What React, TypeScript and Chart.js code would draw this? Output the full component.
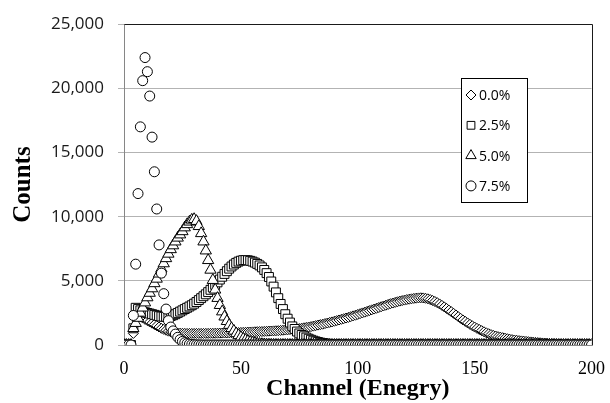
import React, { useEffect, useRef } from "react";
import { Chart, registerables } from "chart.js";
import { drawPoint } from "chart.js/helpers";

Chart.register(...registerables);

const SERIES_LABELS = ["0.0%", "2.5%", "5.0%", "7.5%"];
const POINT_STYLES = ["rectRot", "rect", "triangle", "circle"];
const POINT_RADII = [5, 6.3, 6.5, 5];
const LEGEND_RADII = [5, 5.5, 6, 5];
const X_MIN = 0;
const X_MAX = 200;
const X_STEP = 50;
const Y_MIN = 0;
const Y_MAX = 25000;
const Y_STEP = 5000;
const X_TITLE = "Channel (Enegry)";
const Y_TITLE = "Counts";

// channel index 0..200 (x position of each value below)
const CHANNELS = Array.from({ length: 201 }, (_, i) => i);

const COUNTS_0_0 = [
  0, 0, 0, 0, 900, 2300, 2250, 2200, 2100, 2000,
  1900, 1800, 1700, 1600, 1500, 1400, 1300, 1220, 1150, 1080,
  1020, 980, 950, 930, 920, 910, 905, 900, 900, 900,
  900, 900, 900, 900, 900, 905, 905, 910, 910, 915,
  920, 925, 930, 935, 940, 950, 955, 960, 965, 970,
  980, 985, 990, 1000, 1010, 1020, 1030, 1040, 1045, 1050,
  1060, 1070, 1080, 1090, 1100, 1110, 1120, 1135, 1150, 1165,
  1180, 1200, 1220, 1240, 1260, 1280, 1310, 1340, 1370, 1400,
  1430, 1470, 1510, 1550, 1590, 1620, 1670, 1710, 1760, 1800,
  1850, 1900, 1950, 2000, 2050, 2100, 2150, 2210, 2270, 2320,
  2380, 2440, 2500, 2560, 2620, 2680, 2740, 2800, 2860, 2920,
  2980, 3040, 3100, 3160, 3220, 3270, 3320, 3370, 3420, 3460,
  3500, 3540, 3570, 3600, 3630, 3650, 3670, 3680, 3670, 3640,
  3600, 3540, 3470, 3390, 3300, 3200, 3090, 2970, 2850, 2720,
  2600, 2470, 2340, 2210, 2080, 1950, 1840, 1720, 1610, 1500,
  1400, 1300, 1210, 1120, 1030, 950, 880, 810, 750, 700,
  650, 610, 570, 530, 490, 450, 420, 390, 365, 340,
  320, 300, 280, 260, 240, 220, 205, 190, 175, 160,
  150, 135, 120, 110, 100, 90, 80, 70, 62, 55,
  50, 44, 38, 33, 29, 25, 21, 18, 15, 12,
  10,
];

const COUNTS_2_5 = [
  0, 0, 0, 0, 1300, 2900, 2800, 2700, 2600, 2550,
  2500, 2450, 2400, 2350, 2300, 2250, 2220, 2200, 2200, 2220,
  2260, 2320, 2400, 2500, 2600, 2700, 2800, 2900, 3000, 3100,
  3220, 3350, 3500, 3650, 3800, 3950, 4120, 4300, 4480, 4680,
  4880, 5100, 5320, 5540, 5750, 5950, 6120, 6270, 6400, 6500,
  6570, 6610, 6620, 6600, 6560, 6500, 6420, 6320, 6200, 6050,
  5850, 5600, 5300, 4950, 4550, 4100, 3650, 3200, 2800, 2400,
  2050, 1750, 1450, 1250, 1050, 900, 780, 680, 580, 490,
  410, 340, 280, 230, 185, 150, 120, 95, 75, 58,
  45, 35, 26, 19, 14, 10, 7, 5, 3, 2,
  1, 0, 0, 0, 0, 0, 0, 0, 0, 0,
  0, 0, 0, 0, 0, 0, 0, 0, 0, 0,
  0, 0, 0, 0, 0, 0, 0, 0, 0, 0,
  0, 0, 0, 0, 0, 0, 0, 0, 0, 0,
  0, 0, 0, 0, 0, 0, 0, 0, 0, 0,
  0, 0, 0, 0, 0, 0, 0, 0, 0, 0,
  0, 0, 0, 0, 0, 0, 0, 0, 0, 0,
  0, 0, 0, 0, 0, 0, 0, 0, 0, 0,
  0, 0, 0, 0, 0, 0, 0, 0, 0, 0,
  0, 0, 0, 0, 0, 0, 0, 0, 0, 0,
  0,
];

const COUNTS_5_0 = [
  0, 0, 0, 0, 1300, 1700, 2100, 2500, 2900, 3300,
  3700, 4050, 4400, 4800, 5150, 5550, 5950, 6350, 6750, 7100,
  7450, 7750, 8050, 8350, 8600, 8850, 9150, 9400, 9600, 9750,
  9800, 9650, 9250, 8700, 8050, 7350, 6600, 5850, 5050, 4300,
  3650, 3100, 2600, 2200, 1850, 1550, 1300, 1100, 900, 750,
  600, 480, 380, 300, 230, 180, 140, 100, 75, 55,
  40, 28, 20, 12, 8, 4, 0, 0, 0, 0,
  0, 0, 0, 0, 0, 0, 0, 0, 0, 0,
  0, 0, 0, 0, 0, 0, 0, 0, 0, 0,
  0, 0, 0, 0, 0, 0, 0, 0, 0, 0,
  0, 0, 0, 0, 0, 0, 0, 0, 0, 0,
  0, 0, 0, 0, 0, 0, 0, 0, 0, 0,
  0, 0, 0, 0, 0, 0, 0, 0, 0, 0,
  0, 0, 0, 0, 0, 0, 0, 0, 0, 0,
  0, 0, 0, 0, 0, 0, 0, 0, 0, 0,
  0, 0, 0, 0, 0, 0, 0, 0, 0, 0,
  0, 0, 0, 0, 0, 0, 0, 0, 0, 0,
  0, 0, 0, 0, 0, 0, 0, 0, 0, 0,
  0, 0, 0, 0, 0, 0, 0, 0, 0, 0,
  0, 0, 0, 0, 0, 0, 0, 0, 0, 0,
  0,
];

const COUNTS_7_5 = [
  0, 0, 0, 0, 2300, 6300, 11800, 17000, 20600, 22400,
  21300, 19400, 16200, 13500, 10600, 7800, 5600, 4000, 2800, 1900,
  1400, 1100, 850, 600, 420, 280, 180, 110, 70, 40,
  25, 15, 8, 4, 0, 0, 0, 0, 0, 0,
  0, 0, 0, 0, 0, 0, 0, 0, 0, 0,
  0, 0, 0, 0, 0, 0, 0, 0, 0, 0,
  0, 0, 0, 0, 0, 0, 0, 0, 0, 0,
  0, 0, 0, 0, 0, 0, 0, 0, 0, 0,
  0, 0, 0, 0, 0, 0, 0, 0, 0, 0,
  0, 0, 0, 0, 0, 0, 0, 0, 0, 0,
  0, 0, 0, 0, 0, 0, 0, 0, 0, 0,
  0, 0, 0, 0, 0, 0, 0, 0, 0, 0,
  0, 0, 0, 0, 0, 0, 0, 0, 0, 0,
  0, 0, 0, 0, 0, 0, 0, 0, 0, 0,
  0, 0, 0, 0, 0, 0, 0, 0, 0, 0,
  0, 0, 0, 0, 0, 0, 0, 0, 0, 0,
  0, 0, 0, 0, 0, 0, 0, 0, 0, 0,
  0, 0, 0, 0, 0, 0, 0, 0, 0, 0,
  0, 0, 0, 0, 0, 0, 0, 0, 0, 0,
  0, 0, 0, 0, 0, 0, 0, 0, 0, 0,
  0,
];

const SERIES_VALUES = [COUNTS_0_0, COUNTS_2_5, COUNTS_5_0, COUNTS_7_5];

const SERIF = "'Liberation Serif', 'Times New Roman', serif";
const SANS = "'Open Sans', 'Noto Sans', sans-serif";

const framePlugin = {
  id: "frame",
  beforeDatasetsDraw(chart: any) {
    const { ctx, chartArea } = chart;
    ctx.save();
    ctx.strokeStyle = "#1a1a1a";
    ctx.lineWidth = 1;
    ctx.beginPath();
    ctx.moveTo(Math.round(chartArea.left) + 0.5, Math.round(chartArea.top) + 0.5);
    ctx.lineTo(Math.round(chartArea.right) + 0.5, Math.round(chartArea.top) + 0.5);
    ctx.lineTo(Math.round(chartArea.right) + 0.5, Math.round(chartArea.bottom) + 0.5);
    ctx.stroke();
    ctx.restore();
  },
};

const boxLegendPlugin = {
  id: "boxLegend",
  afterDraw(chart: any) {
    const { ctx } = chart;
    const bx = 461;
    const by = 78;
    const bw = 66;
    const bh = 124;
    ctx.save();
    ctx.fillStyle = "#ffffff";
    ctx.fillRect(bx, by, bw, bh);
    ctx.strokeStyle = "#000000";
    ctx.lineWidth = 1;
    ctx.strokeRect(bx + 0.5, by + 0.5, bw, bh);
    chart.data.datasets.forEach((ds: any, i: number) => {
      const cy = by + 17 + i * 30.3;
      ctx.fillStyle = "#ffffff";
      ctx.strokeStyle = "#000000";
      ctx.lineWidth = 1;
      drawPoint(ctx, { pointStyle: ds.pointStyle, radius: LEGEND_RADII[i], borderWidth: 1, rotation: 0 } as any, bx + 10, cy);
      ctx.fillStyle = "#000000";
      ctx.font = `14px ${SANS}`;
      ctx.textAlign = "left";
      ctx.textBaseline = "middle";
      ctx.fillText(ds.label, bx + 18, cy + 1);
    });
    ctx.restore();
  },
};

export default function App() {
  const canvasRef = useRef<HTMLCanvasElement | null>(null);

  useEffect(() => {
    document.body.style.margin = "0";
    const canvas = canvasRef.current;
    if (!canvas) return;
    const datasets = SERIES_LABELS.map((label, i) => ({
      label,
      data: CHANNELS.map((c, j) => ({ x: c, y: SERIES_VALUES[i][j] })),
      pointStyle: POINT_STYLES[i],
      pointRadius: POINT_RADII[i],
      pointBackgroundColor: "#ffffff",
      pointBorderColor: "#000000",
      pointBorderWidth: 1,
      showLine: false,
      order: 4 - i,
    }));
    const chart = new Chart(canvas, {
      type: "scatter",
      data: { datasets } as any,
      options: {
        responsive: false,
        animation: false,
        layout: { padding: { top: 22, right: 17, left: 0, bottom: 0 } },
        plugins: {
          legend: { display: false },
          tooltip: { enabled: false },
        },
        scales: {
          x: {
            type: "linear",
            min: X_MIN,
            max: X_MAX,
            afterFit: (s: any) => {
              s.height = 58;
            },
            ticks: {
              stepSize: X_STEP,
              color: "#000000",
              padding: 5,
              font: { family: SERIF, size: 18 },
            },
            grid: { display: false },
            border: { display: true, color: "#868686" },
            title: {
              display: true,
              text: X_TITLE,
              color: "#000000",
              font: { family: SERIF, size: 24, weight: "bold" },
              padding: { top: 0, bottom: 0 },
            },
          },
          y: {
            type: "linear",
            min: Y_MIN,
            max: Y_MAX,
            afterFit: (s: any) => {
              s.width = 124;
            },
            ticks: {
              stepSize: Y_STEP,
              color: "#1a1a1a",
              padding: 14,
              font: { family: SANS, size: 17 },
              callback: (v: any) => Number(v).toLocaleString("en-US"),
            },
            grid: { color: "#b3b3b3", tickLength: 6, drawTicks: true },
            border: { display: true, color: "#868686" },
            title: {
              display: true,
              text: Y_TITLE,
              color: "#000000",
              font: { family: SERIF, size: 25, weight: "bold" },
              padding: { top: 9, bottom: 0 },
            },
          },
        },
      } as any,
      plugins: [framePlugin, boxLegendPlugin],
    });
    return () => chart.destroy();
  }, []);

  return (
    <div style={{ position: "absolute", left: 0, top: 0, width: 610, height: 403 }}>
      <canvas ref={canvasRef} width={610} height={403} style={{ display: "block", width: 610, height: 403 }} />
    </div>
  );
}
